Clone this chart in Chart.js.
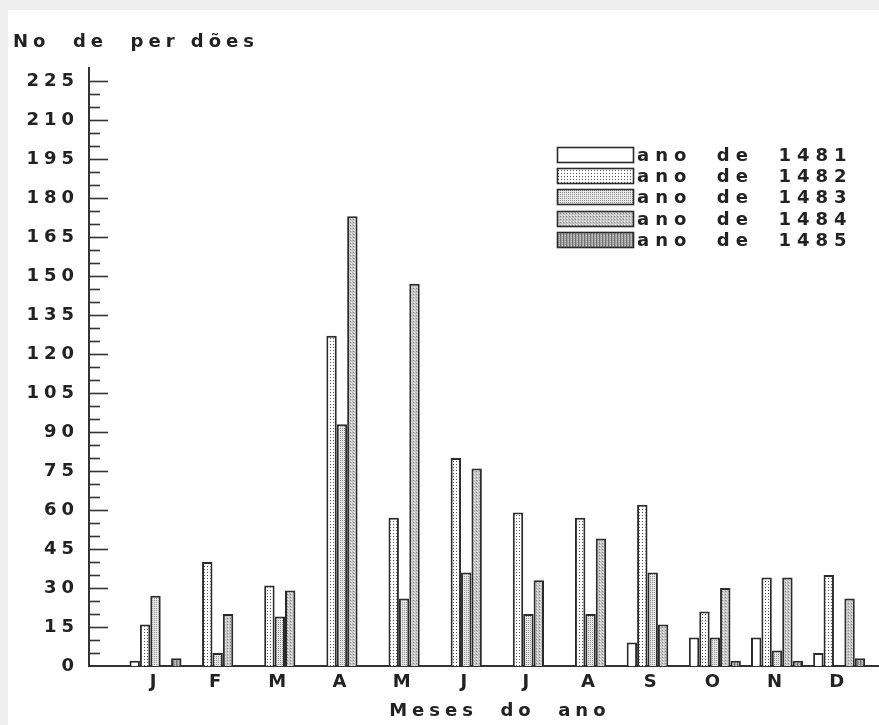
<!DOCTYPE html>
<html><head><meta charset="utf-8">
<script src="https://cdn.jsdelivr.net/npm/chart.js@4.4.1/dist/chart.umd.min.js"></script>
<style>
html,body{margin:0;padding:0;background:#efefef;width:879px;height:725px;overflow:hidden}
#wrap{position:absolute;left:8px;top:10px;width:871px;height:715px;background:#fff}
canvas{display:block}
</style></head><body>
<div id="wrap"><canvas id="c" width="871" height="715"></canvas></div>
<script>
// ---- data ----
const months = ['J','F','M','A','M','J','J','A','S','O','N','D'];
const seriesLabels = ['ano  de  1481','ano  de  1482','ano  de  1483','ano  de  1484','ano  de  1485'];
const v1481 = [2, 0, 0, 0, 0, 0, 0, 0, 9, 11, 11, 5];
const v1482 = [16, 40, 31, 127, 57, 80, 59, 57, 62, 21, 34, 35];
const v1483 = [27, 5, 19, 93, 26, 36, 20, 20, 36, 11, 6, 0];
const v1484 = [0, 20, 29, 173, 147, 76, 33, 49, 16, 30, 34, 26];
const v1485 = [3, 0, 0, 0, 0, 0, 0, 0, 0, 2, 2, 3];
const yTitle = 'No  de  per dões';
const xTitle = 'Meses  do  ano';
const yMax = 230, yStep = 15, yMinorStep = 5;

const series = [v1481, v1482, v1483, v1484, v1485];

const canvas = document.getElementById('c');
const ctx = canvas.getContext('2d');

function makePattern(w, h, bg, marks) {
  const t = document.createElement('canvas');
  t.width = w; t.height = h;
  const g = t.getContext('2d');
  g.fillStyle = bg; g.fillRect(0, 0, w, h);
  marks.forEach(([x, y, mw, mh, col]) => { g.fillStyle = col; g.fillRect(x, y, mw, mh); });
  return ctx.createPattern(t, 'repeat');
}
const fills = [
  '#ffffff',
  makePattern(3, 3, '#ffffff', [[1, 1, 1, 1, '#555']]),
  makePattern(2, 2, '#e6e6e6', [[0, 0, 1, 1, '#909090']]),
  makePattern(3, 3, '#c6c6c6', [[1, 1, 1, 1, '#f4f4f4'], [0, 2, 1, 1, '#8a8a8a']]),
  makePattern(3, 2, '#a2a2a2', [[0, 0, 1, 2, '#707070'], [2, 1, 1, 1, '#cacaca']])
];

const FONT = {family: 'DejaVu Sans', size: 18, weight: 'bold'};
const FONT_CSS = 'bold 18px "DejaVu Sans"';
const LS = 5;

const spacingPlugin = {
  id: 'spacing',
  beforeDraw(chart) { chart.ctx.letterSpacing = LS + 'px'; }
};

const tickMarks = {
  id: 'tickMarks',
  afterDraw(chart) {
    const y = chart.scales.y, c = chart.ctx, x0 = chart.chartArea.left;
    c.save();
    c.strokeStyle = '#333'; c.lineWidth = 1.6;
    for (let v = yMinorStep; v < y.max; v += yMinorStep) {
      const py = Math.round(y.getPixelForValue(v)) + 0.5;
      const len = v % yStep === 0 ? 19 : 11;
      c.beginPath(); c.moveTo(x0, py); c.lineTo(x0 + len, py); c.stroke();
    }
    c.restore();
  }
};

const legendBox = {
  id: 'legendBox',
  afterDraw(chart) {
    const c = chart.ctx;
    const bx = chart.chartArea.right - 321, by = 137, bw = 76, bh = 15, pitch = 21.2;
    c.save();
    c.letterSpacing = '6px';
    chart.data.datasets.forEach((ds, i) => {
      const y = Math.round(by + i * pitch) + 0.5;
      c.fillStyle = ds.backgroundColor;
      c.fillRect(bx, y, bw, bh);
      c.strokeStyle = '#2b2b2b'; c.lineWidth = 1.6;
      c.strokeRect(bx + 0.5, y, bw, bh);
      c.fillStyle = '#222';
      c.font = FONT_CSS;
      c.textBaseline = 'middle';
      c.textAlign = 'left';
      c.fillText(ds.label, bx + bw + 4, y + bh / 2 + 1);
    });
    c.restore();
  }
};

const xTitlePlugin = {
  id: 'xTitle',
  afterDraw(chart) {
    const c = chart.ctx, xs = chart.scales.x;
    c.save();
    c.fillStyle = '#222';
    c.font = FONT_CSS;
    c.textAlign = 'center';
    c.textBaseline = 'middle';
    c.fillText(xTitle, xs.getPixelForValue((months.length - 1) / 2) + LS / 2, 701);
    c.restore();
  }
};

new Chart(ctx, {
  type: 'bar',
  data: {
    datasets: seriesLabels.map((lab, k) => ({
      label: lab,
      data: months.map((m, i) => ({x: i, y: series[k][i]})),
      backgroundColor: fills[k],
      borderColor: '#2b2b2b',
      borderWidth: 2,
      borderSkipped: 'start',
      categoryPercentage: 0.837,
      barPercentage: 1
    }))
  },
  options: {
    responsive: false,
    animation: false,
    events: [],
    devicePixelRatio: 1,
    layout: {padding: {left: 5, right: 1, top: 0, bottom: 0}},
    plugins: {
      legend: {display: false},
      tooltip: {enabled: false},
      title: {
        display: true, text: yTitle, align: 'start', color: '#222',
        font: FONT, padding: {top: 22, bottom: 14.4}
      }
    },
    scales: {
      x: {
        type: 'linear', min: -1.07, max: 11.625, offset: false,
        grid: {display: false, drawTicks: false},
        border: {display: true, color: '#333', width: 2},
        ticks: {
          stepSize: 1, includeBounds: false, autoSkip: false, maxRotation: 0, minRotation: 0, maxTicksLimit: 30,
          padding: 6, color: '#222', font: FONT,
          callback: (v) => (Number.isInteger(v) && months[v] !== undefined) ? months[v] : ''
        },
        afterFit: (s) => { s.height = 59; }
      },
      y: {
        min: 0, max: yMax,
        grid: {display: false, drawTicks: false},
        border: {display: true, color: '#333', width: 2},
        ticks: {stepSize: yStep, includeBounds: false, padding: 10, color: '#222', font: FONT},
        afterFit: (s) => { s.width = 76; }
      }
    }
  },
  plugins: [spacingPlugin, tickMarks, legendBox, xTitlePlugin]
});
</script>
</body></html>
